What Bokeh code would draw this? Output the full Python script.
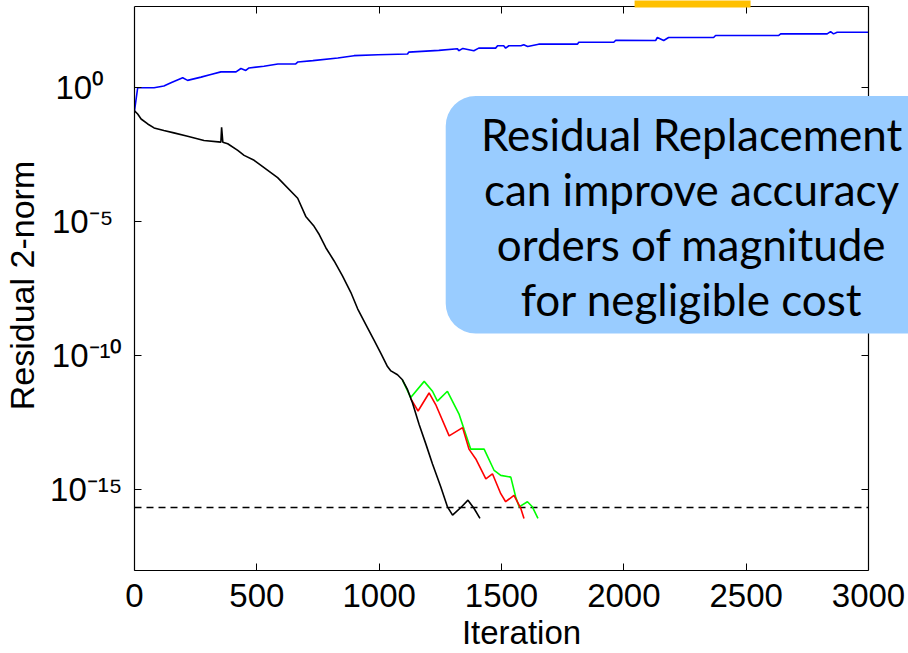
from bokeh.plotting import figure
from bokeh.models import (FixedTicker, LinearAxis, LogAxis, Label, BoxAnnotation,
                          Range1d, CustomJSTickFormatter)
from bokeh.embed import file_html
from bokeh.resources import INLINE

# --- residual histories (iteration, residual 2-norm) ---
# black: recurrence without replacement
black_iter = [0, 13, 27, 54, 80, 120, 161, 217, 284, 353, 356, 361, 381, 422, 448, 489,
              517, 585, 667, 700, 734, 755, 782, 816, 850, 884, 912, 952, 979, 1007,
              1034, 1048, 1075, 1095, 1116, 1136, 1163, 1191, 1218, 1252, 1279, 1300,
              1334, 1363, 1388, 1412]
black_res = [0.13, 0.0986, 0.0645, 0.0422, 0.030, 0.0239, 0.0196, 0.0147, 0.0102,
             0.00885, 0.0316, 0.00885, 0.00773, 0.00438, 0.00286, 0.00187, 0.00122,
             4.24e-4, 7.26e-5, 1.52e-5, 6.51e-6, 3.22e-6, 1.04e-6, 3.34e-7, 9.35e-8,
             2.28e-8, 5.54e-9, 1.1e-9, 3.75e-10, 1.21e-10, 3.93e-11, 2.7e-11,
             1.93e-11, 1.26e-11, 5.39e-12, 1.75e-12, 2.77e-13, 5.07e-14, 9.29e-15,
             1.29e-15, 2.35e-16, 1.16e-16, 2.22e-16, 4.15e-16, 2.03e-16, 8.7e-17]

# green: residual replacement, first variant
green_iter = [1095, 1129, 1184, 1218, 1238, 1279, 1327, 1347, 1374, 1429, 1470, 1497,
              1538, 1558, 1572, 1606, 1626, 1649]
green_res = [1.26e-11, 2.75e-12, 1.1e-11, 4.71e-12, 2.02e-12, 4.71e-12, 6.46e-13,
             1.81e-13, 3.31e-14, 3.31e-14, 5.3e-15, 3.47e-15, 3.0e-15, 5.5e-16,
             2.35e-16, 3.63e-16, 2.35e-16, 8.7e-17]

# red: residual replacement, second variant
red_iter = [1129, 1159, 1204, 1231, 1286, 1341, 1367, 1395, 1436, 1463, 1497, 1517,
            1551, 1579, 1592]
red_res = [2.5e-12, 8.7e-13, 4.07e-12, 1.51e-12, 1.03e-13, 2.09e-13, 3.31e-14,
           1.42e-14, 2.6e-15, 3.98e-15, 7.24e-16, 3.63e-16, 6.3e-16, 2.04e-16, 8.7e-17]

# blue: growing quantity tracked over all iterations
blue_iter = [0, 13, 80, 120, 149, 197, 217, 272, 312, 353, 415, 435, 455, 468, 529,
             586, 659, 668, 729, 831, 897, 995, 1116, 1121, 1244, 1320, 1325, 1342,
             1387, 1407, 1476, 1484, 1509, 1517, 1530, 1579, 1591, 1607, 1652, 1810,
             1816, 1959, 1967, 2130, 2137, 2163, 2183, 2367, 2375, 2632, 2641, 2831,
             2845, 2857, 2872, 3000]
blue_val = [0.13, 0.94, 0.94, 1.09, 1.44, 2.2, 1.77, 2.34, 2.94, 3.66, 3.66, 4.89,
            4.13, 5.14, 5.94, 7.22, 7.22, 8.57, 9.64, 12.0, 14.7, 16.0, 16.9, 20.0,
            23.1, 26.7, 22.5, 27.4, 22.5, 28.1, 28.1, 34.4, 34.4, 28.1, 34.4, 34.4,
            37.5, 32.5, 39.4, 39.4, 46.7, 46.7, 55.4, 54.0, 69.7, 54.0, 69.7, 69.7,
            82.6, 82.6, 95.3, 95.3, 116.0, 95.3, 109.0, 109.0]

machine_eps = 2.22e-16

x_ticks = [0, 500, 1000, 1500, 2000, 2500, 3000]
y_ticks = [1e0, 1e-5, 1e-10, 1e-15]
# exponents written as superscripts; punctuation spaces keep the "10" bases aligned
y_tick_labels = ["10\u2070\u2008\u2008", "10\u207b\u2075\u2008",
                 "10\u207b\u00b9\u2070", "10\u207b\u00b9\u2075"]

callout_lines = ["Residual Replacement", "can improve accuracy",
                 "orders of magnitude", "for negligible cost"]

AXIS_FONT = "Liberation Sans"
FS = "33px"

# axes box spans 0..3000 by 1e-18..1e3; the plotting area runs a little past it
# on the right and top so the callout and the highlight can overlap the box edge
X_MAX, Y_MIN, Y_MAX = 3000, 1e-18, 1e3

p = figure(width=908, height=653, x_range=Range1d(0, 3163.5),
           y_range=Range1d(Y_MIN, 1665), y_axis_type="log",
           output_backend="svg", toolbar_location=None,
           min_border_left=134, min_border_right=0, min_border_top=0,
           min_border_bottom=78)
p.background_fill_color = "white"
p.border_fill_color = "white"
p.outline_line_color = None
p.xgrid.visible = False
p.ygrid.visible = False

blank = CustomJSTickFormatter(code="return ''")
power_labels = CustomJSTickFormatter(
    args=dict(tick_vals=y_ticks, tick_text=y_tick_labels),
    code="""
        const i = tick_vals.findIndex(t => Math.abs(Math.log10(t) - Math.log10(tick)) < 1e-6);
        return i >= 0 ? tick_text[i] : '';
    """)

# bottom axis
xa = p.xaxis[0]
xa.ticker = FixedTicker(ticks=x_ticks)
xa.bounds = (0, X_MAX)
xa.axis_label = "Iteration"
xa.axis_label_text_font = AXIS_FONT
xa.axis_label_text_font_size = FS
xa.axis_label_text_font_style = "normal"
xa.axis_label_text_color = "black"
xa.axis_label_text_line_height = 0.58
xa.axis_label_standoff = 4
xa.major_label_text_font = AXIS_FONT
xa.major_label_text_font_size = FS
xa.major_label_text_color = "black"
xa.major_label_text_line_height = 0.9
xa.major_label_standoff = 13
xa.major_tick_in = 7
xa.major_tick_out = 0
xa.minor_tick_line_color = None
xa.axis_line_color = "black"
xa.axis_line_width = 1.2
xa.major_tick_line_color = "black"

# left axis with power-of-ten labels
ya = p.yaxis[0]
ya.ticker = FixedTicker(ticks=y_ticks)
ya.bounds = (Y_MIN, Y_MAX)
ya.formatter = power_labels
ya.axis_label = "Residual 2-norm"
ya.axis_label_text_font = AXIS_FONT
ya.axis_label_text_font_size = "34px"
ya.axis_label_text_font_style = "normal"
ya.axis_label_text_color = "black"
ya.axis_label_standoff = 6
ya.major_label_text_font = AXIS_FONT
ya.major_label_text_font_size = FS
ya.major_label_text_color = "black"
ya.major_label_standoff = 12
ya.major_tick_in = 7
ya.major_tick_out = 0
ya.minor_tick_line_color = None
ya.axis_line_color = "black"
ya.axis_line_width = 1.2
ya.major_tick_line_color = "black"

# top and right edges of the axes box, with inward ticks
top_axis = LinearAxis(ticker=FixedTicker(ticks=x_ticks), formatter=blank,
                      fixed_location=Y_MAX, bounds=(0, X_MAX),
                      major_label_standoff=0, major_tick_in=7, major_tick_out=0,
                      minor_tick_line_color=None, axis_line_color="black",
                      axis_line_width=1.2, major_tick_line_color="black")
p.add_layout(top_axis, "above")
right_axis = LogAxis(ticker=FixedTicker(ticks=y_ticks), formatter=blank,
                     fixed_location=X_MAX, bounds=(Y_MIN, Y_MAX),
                     major_label_standoff=0, major_tick_in=7, major_tick_out=0,
                     minor_tick_line_color=None, axis_line_color="black",
                     axis_line_width=1.2, major_tick_line_color="black")
p.add_layout(right_axis, "right")

# machine precision level, across the axes box
p.line([0, X_MAX], [machine_eps, machine_eps], line_color="black",
       line_width=1.5, line_dash="7 5")

# curves
p.line(blue_iter, blue_val, line_color="#0000FF", line_width=1.6)
p.line(green_iter, green_res, line_color="#00FF00", line_width=1.6)
p.line(red_iter, red_res, line_color="#FF0000", line_width=1.6)
p.line(black_iter, black_res, line_color="black", line_width=1.6)

# highlighted strip at the top edge
p.add_layout(BoxAnnotation(left=2044, right=2518, bottom=10 ** 2.963, top=1e5,
                           fill_color="#FFC000", fill_alpha=1.0, line_color=None))

# callout
p.add_layout(BoxAnnotation(left=1272, right=3400, top=0.466, bottom=6.64e-10,
                           fill_color="#99CCFF", fill_alpha=1.0, line_color=None,
                           border_radius=30))
p.add_layout(Label(x=2277, y=1.48e-5, text="\n".join(callout_lines),
                   text_align="center", text_baseline="middle",
                   text_font="Lato", text_font_size="44px",
                   text_line_height=1.055, text_color="black"))

open("out.html", "w").write(file_html(p, INLINE))
